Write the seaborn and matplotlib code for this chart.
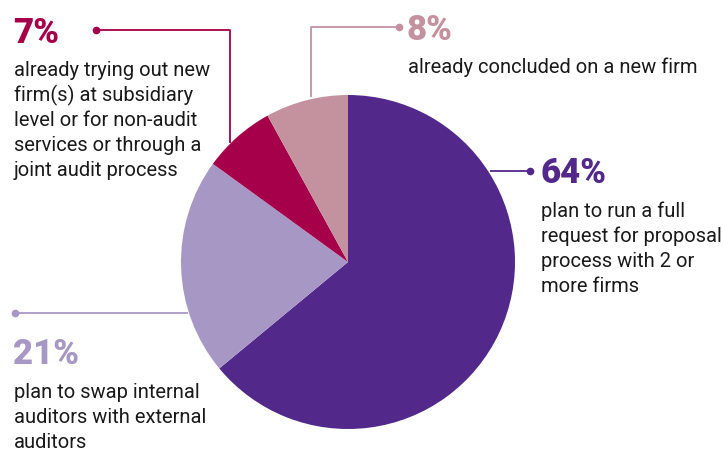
import matplotlib
matplotlib.use("Agg")
import matplotlib.pyplot as plt
import seaborn as sns

# Survey shares (percent) and their descriptions
shares = [64, 21, 7, 8]
share_labels = ["64%", "21%", "7%", "8%"]
descriptions = [
    ["plan to run a full", "request for proposal", "process with 2 or", "more firms"],
    ["plan to swap internal", "auditors with external", "auditors"],
    ["already trying out new", "firm(s) at subsidiary", "level or for non-audit",
     "services or through a", "joint audit process"],
    ["already concluded on a new firm"],
]
slice_colors = ["#52288A", "#A797C5", "#A6004A", "#C4919F"]

sns.set_style("white")
plt.rcParams["font.family"] = ["Roboto", "DejaVu Sans"]

W, H = 723, 451
fig = plt.figure(figsize=(W / 100, H / 100), dpi=100)
ax = fig.add_axes([0, 0, 1, 1])

palette = sns.color_palette(slice_colors)
cx, cy, r = 348, 262, 167
ax.pie(shares, colors=palette, startangle=90, counterclock=False,
       center=(cx, H - cy), radius=r, wedgeprops=dict(linewidth=0))
ax.set_xlim(0, W)
ax.set_ylim(0, H)
ax.set_aspect("equal")
ax.axis("off")


def leader(points, color):
    xs = [p[0] for p in points]
    ys = [H - p[1] for p in points]
    ax.plot(xs, ys, color=color, lw=1.3, solid_capstyle="butt", zorder=3)
    ax.plot(xs[0], ys[0], "o", color=color, ms=4.5, zorder=3)


# leader lines from each label towards its slice
leader([(530, 171), (490, 171)], palette[0])
leader([(15, 313), (188, 313)], palette[1])
leader([(96, 30), (230, 30), (230, 143)], palette[2])
leader([(399, 27), (311, 27), (311, 97)], palette[3])

# label blocks: (x, baseline of percentage, baseline of first description line)
label_pos = [(540, 183, 217), (13, 364, 398), (13, 43, 76), (407, 40, 73)]
line_step = 25
text_color = "#1A1A1A"
for (x, y_num, y_body), lab, lines, col in zip(label_pos, share_labels, descriptions, palette):
    ax.text(x, H - y_num, lab, color=col, fontsize=25, fontweight="black",
            family=["Roboto", "DejaVu Sans"], va="baseline", ha="left")
    for i, line in enumerate(lines):
        ax.text(x + 1, H - (y_body + i * line_step), line, color=text_color,
                fontsize=14.5, va="baseline", ha="left")

fig.savefig("out.png", dpi=100, facecolor="white")
